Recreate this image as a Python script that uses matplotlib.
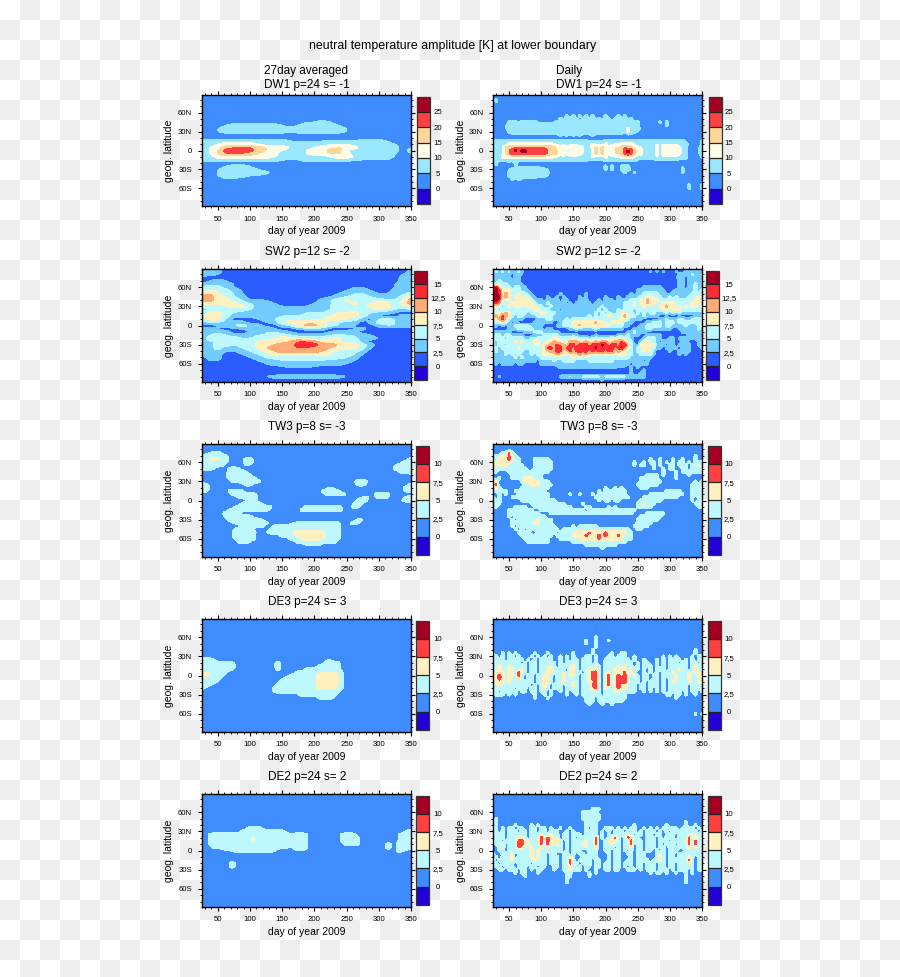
import numpy as np
import matplotlib
matplotlib.use("Agg")
import matplotlib.pyplot as plt
from matplotlib.colors import ListedColormap, BoundaryNorm
from matplotlib.ticker import FixedLocator, FixedFormatter

plt.rcParams['font.family'] = ['Liberation Sans', 'DejaVu Sans']

# Each field: (latitude, amplitude read along that latitude, one base-36 digit per column,
# columns evenly spaced from day 25 to day 350). One digit = half a colour band.
DW1_AVG = [
 (45,"111111111111122321111111111"),
 (40,"111233333321233332111111111"),
 (35,"112333333333333333211111111"),
 (30,"112333333332333333211111111"),
 (15,"333333333332222222223332111"),
 (10,"334555543333233344433333211"),
 (5,"345788876554334556653333312"),
 (0,"346999976543345577433443313"),
 (-5,"346888765533345566533333212"),
 (-10,"335555555433233345543333211"),
 (-15,"333333333322233333322222111"),
 (-25,"111233211111111111111111111"),
 (-30,"112333321111111111111111111"),
 (-35,"112333333111111111111111111"),
 (-40,"112333221111111111111111111"),
 (-45,"111221111111111111111111111"),
]
SW2_AVG = [
 (85,"333111111111111111111111113"),
 (80,"332111111111111111111111123"),
 (75,"111111111111111111111111133"),
 (70,"123211111111111111111111133"),
 (65,"233321111111111111111111233"),
 (60,"555321111111111111122111233"),
 (55,"566532111111111111233211333"),
 (50,"786542111111111112344322335"),
 (45,"997643111111111123455433357"),
 (40,"997754222111111345755554469"),
 (35,"777775433211112344575677579"),
 (30,"555677533322223345555777557"),
 (25,"344455433333333345555575434"),
 (20,"477543333333344456675433211"),
 (15,"587533333344455567775321133"),
 (10,"577411123455556677653145433"),
 (5,"344333112367777754331355433"),
 (0,"112345431134799754321134433"),
 (-5,"332122344211233311123111111"),
 (-10,"333311234432111123331111111"),
 (-15,"245433344554333344443211111"),
 (-20,"355554455677655567544321111"),
 (-25,"344555567778aa97765531111"),
 (-30,"235545577899bbb998775311111"),
 (-35,"235334568999aa9987775211111"),
 (-40,"334223457899999875553111111"),
 (-45,"333112345777777765542111111"),
 (-50,"133111234555555555431111111"),
 (-55,"122111123344444433321111111"),
 (-60,"111111112333333333211111111"),
 (-65,"111111111122222111111111111"),
 (-80,"111111112333333333211211111"),
]
TW3_AVG = [
 (75,"1122332111"),
 (70,"2333333321"),
 (65,"3335552331 1112332111 1111111111 1111111111 1111111111 1111111111 111123"),
 (60,"3333333321 1112332111 1111111111 1111111111 1111111111 1111111111 112333"),
 (55,"3333333211 1112221111 1111111111 1111111111 1111111111 1111111111 233333"),
 (50,"3333211123 3321111111 1111111111 1111111111 1111111111 1111111111 333333"),
 (45,"2111111123 3333211111 1111111111 1111111111 1111111111 1111111111 123333"),
 (40,"1111111133 3333331111 1111111111 1111111111 1111111111 1111111111 111112"),
 (35,"1111111123 3333333211"),
 (30,"1111111112 3333333331 1111111111 1111111111 1111111133 3311111111"),
 (25,"3321111111 1112332111 1111111111 1111111111 1111111123 3211111111 111123"),
 (20,"3331111111 1111111111 1111111111 1111111112 2211111111 1111111111 111333"),
 (15,"3321111123 3332111111 1111111111 1111111233 3332111111 1111111111 111233"),
 (10,"1111111112 3333333211 1111111111 1111111123 3333321111 1111333331"),
 (5,"1111111111 1233333311 1111111111 1111111111 1111111112 2321233321 111233"),
 (0,"2111111111 1111233211 1111111111 1111111111 1111111123 3311111111 112333"),
 (-5,"1111111111 1123333332 1111111111 1111111111 1111111233 2111111111"),
 (-10,"1111111111 2333333333 3321111111 1133333333 3333111332"),
 (-15,"1111111123 3333333333 3211111111 1333333333 3333211111"),
 (-20,"1111111333 3321111111"),
 (-25,"1111111233 3333332111"),
 (-30,"1111111123 3333333332 1111111111 1111111111 1111111123 2111111111"),
 (-35,"1111111112 2333333333 3211111122 3333333333 3332112332"),
 (-40,"1111111111 1123333333 1123333333 3333333333 3332112111"),
 (-45,"1111111111 2333332111 1233333333 3333333333 3332111111"),
 (-50,"1111111111 3333333211 2333333345 5555555553 3332111111"),
 (-55,"1111111111 3333333111 1111233334 5555555553 3332111111"),
 (-60,"1111111111 2333333211 1111111233 3455555443 3332111111"),
 (-65,"1111111111 1233321111 1111111112 3333333333 3321111111"),
 (-70,"1111111111 1111111111 1111111111 1122222211"),
]
DE3_AVG = [
 (25,"3333211111 1111111111 1111111111 1111111112 2111111111"),
 (20,"3333333333 2111111111 1112311111 1111111123 3332111111"),
 (15,"3333333333 3111111111 1113311111 1111112333 3332111111"),
 (10,"3333333333 2111111111 1112311111 1123333333 3332111111"),
 (5,"4443333321 1111111111 1112111112 3333333444 4443211111"),
 (0,"5553333211 1111111111 1111111233 3333335555 5553211111"),
 (-5,"3333332111 1111111111 1111123333 3333335555 5553211111"),
 (-10,"3333321111 1111111111 1111233333 3333335555 5553211111"),
 (-15,"3332111111 1111111111 1112333333 3333335555 5553211111"),
 (-20,"3211111111 1111111111 1123333333 3333335555 5533211111"),
 (-25,"1111111111 1111111111 1123333333 3333333333 3332111111"),
 (-30,"1111111111 1111111111 1111111111 2333333333 3321111111"),
 (-35,"1111111111 1111111111 1111111111 1111112333 3211111111"),
]
DE2_AVG = [
 (35,"1111111111 1111233332"),
 (30,"1111111111 1123333333 3333332111 1111111111 1111111111 1111111111 111233"),
 (25,"1123333333 3333333333 3333333323 3332111111 1112333321 1111111111 123333"),
 (20,"1123333333 3333335333 3333333333 3332111111 1112333332 1111111111 123333"),
 (15,"1123333333 3333335333 3333333333 3332111111 1112333332 1111111111 123333"),
 (10,"1123333333 3333333333 3333333333 3332111111 1111233332 1111111232 133333"),
 (5,"1112333333 3333333333 3333333223 3332111111 1111111111 1111111232 133333"),
 (0,"1111111222 3333333333 3332111112 2221111111 1111111111 1111111121 133221"),
 (-5,"1111111111 1111111111 1111111111 1111111111 1111111111 1111111111 121111"),
 (-20,"1111111113 3111111111"),
 (-25,"1111111113 3111111111"),
]
DW1_DAY = [
 (80,"1311111111"),
 (75,"1211111111"),
 (70,"1211111111"),
 (55,"1111111111 1111111111 1113131313 1311131113 1311111111"),
 (50,"1111111111 1111111111 1323333133 3323233133 3323111111"),
 (45,"1111133323 3333222222 3333333333 3333333333 3333331111 1131311111"),
 (40,"1111233333 3333333333 3333333333 3333333333 3333331111 1111311111"),
 (35,"1111233333 3333333333 3333333333 3333333333 3353332111"),
 (30,"1111133333 3333333333 3333333333 3333333333 3353321111"),
 (25,"1111112222 2222222222 2323232322 2322222222 2122111111"),
 (15,"3333333333 3333333333 3333333333 2222233333 3333333333 3333333333 211113"),
 (10,"3333355555 5555555554 4343444343 4534353444 5555433233 4444444433 321113"),
 (5,"3334777888 8888888777 5555555544 3575755566 7877554333 3535555553 311223"),
 (0,"3334689b9b b999999877 6555555543 3575755567 79b9755333 3535555553 311223"),
 (-5,"3334689999 a999999877 6555555543 3575755566 79a9755333 3535555553 311223"),
 (-10,"3335555555 5555555554 4343444333 3534353444 5565433233 3434444433 311113"),
 (-15,"3333333333 3333333333 3333333333 2222233333 3333322222 2222222222 211111"),
 (-20,"1311121311 1111111111 1111111111 1111111111 1111111111 1111111111"),
 (-25,"1211111222 2222211111 1111111111 1111131311 3331111111 1111111112"),
 (-30,"1111123333 3333333211 1111111111 1111131311 3332111111 1111111113"),
 (-35,"1111133333 3333333311 1111111111 1111111111 1311311111 1111111113"),
 (-40,"1111133333 3333333211"),
 (-45,"1111113232 2222111111"),
 (-55,"1111111111 1111111111 1111111111 1111111111 1111111111 1111111111 131113"),
 (-60,"1111111111 1111111111 1111111111 1111111111 1111111111 1111111111 131113"),
]
SW2_DAY = [
 (85,"3535353353 1111111111 1111111111 1111111111 1111111113 1313111311 333333"),
 (80,"3333331332 1111111111 1111111111 1111111111 1111111111 1111111133 335333"),
 (75,"3333331331 1111111111 1111111111 1111111111 1111111111 1111111233 133333"),
 (70,"3353333331 1111111111 1111111111 1111111111 1111111111 1111111133 133333"),
 (65,"3555533332 1111111111 1111111111 1111111111 1111111111 1111111133 133533"),
 (60,"9d75553553 3111111111 1111111111 1111111111 1111111333 3331111133 133533"),
 (55,"bdb7775553 3211111111 1111111111 1111111111 1111133333 3333112333 333535"),
 (50,"bdb7975575 5321111111 1311111113 1111111111 1113133555 5533223333 335555"),
 (45,"bdd7975775 7532111311 3131111313 1111131113 1133335577 5553353533 355575"),
 (40,"bdb5775577 7753331333 3133111333 1113133313 3335557597 7755555555 555777"),
 (35,"9b95557777 7775333533 3331313333 3133333333 3555757797 7557777555 557757"),
 (30,"7753575777 5777553353 3333333333 3333533333 3553735755 5577977575 757757"),
 (25,"5535355555 5557755533 3133333333 3335353335 3555355555 5557757775 555555"),
 (20,"7757975555 5355577555 3333333333 3353535335 5755353535 5333535353 333333"),
 (15,"797b975355 3333555553 3333333333 5353557755 7975533533 3311111111 111333"),
 (10,"779b753333 1111333553 3335355555 5555555555 7753333111 1133533355 335555"),
 (5,"5557531311 1113333331 1355577777 7797755777 7333111133 5553555355 555555"),
 (0,"3313133555 5533331111 3355577977 7777777555 5331113355 5553553333 533355"),
 (-5,"1111133355 5553331331 1111335333 3353333333 3111333355 3333331133 333353"),
 (-10,"3333331111 3335553333 3111111111 1111111111 1133533311 1111111113 333333"),
 (-15,"3553553333 1111335555 5333333111 1131111113 3353331133 3331111111 133333"),
 (-20,"5555355555 3355555557 7555575555 3555555757 7553111355 5331133133 333333"),
 (-25,"5355555757 5557755779 7757999779 7797997799 b755113575 5313333113 311133"),
 (-30,"5355355555 5557757799 b997bb9bbb 9bbbdb9bb9 bd75317777 7333133133 331133"),
 (-35,"3535555575 5553557bb9 bb9bb9bbbb bbdbbbbb9b d975355775 5331333313 331113"),
 (-40,"5533555555 3355557799 bb77b9bbbb 9b9bb9bb79 7755355757 3111131133 331111"),
 (-45,"3333535353 3353557777 9777777979 7777777777 7755335555 3111111131 311111"),
 (-50,"3333333535 3333355555 5555575755 5555555555 5553333333 1111111111 111111"),
 (-55,"3333333333 3333133335 3355553333 5555555533 3333333131 1111111111"),
 (-60,"1313333133 1111133333 3333333333 3333333333 3331333331 1111111111"),
 (-65,"1111111111 1111111111 2333333333 3333333332 2213131111"),
 (-70,"1111111111 1111111111 1111111111 1111111111 1113111311"),
 (-75,"1111111111 1111111111 1111111111 1111111111 1113113311"),
 (-80,"1131111111 1111111111 1333533355 5555355555 5533333311"),
 (-85,"1111111111 1111111111 1111111111 1111311111 1111111111"),
]
TW3_DAY = [
 (75,"1113373111"),
 (70,"3335373311 1111111111 1111111111 1111111111 1111111111 1111111111 111311"),
 (65,"3355575331 1113333311 1111111111 1111111111 1111111113 1131113113 111311"),
 (60,"5555553331 1113333331 1111111111 1111111111 1111311313 3131313133 131333"),
 (55,"5353533333 1113333331 1111111111 1111111111 1111313311 3131133133 313353"),
 (50,"5333333333 3113333331 1111111111 1111111111 1111111111 3113133113 313333"),
 (45,"3311133333 3333333311 1111111111 1111111111 1111111111 1113111313 333333"),
 (40,"1111113333 3333331111 1111111111 1111111111 1111111133 3313111311 131111"),
 (35,"3131113333 5553331111 1111111111 1111111111 1111113333 3311111311"),
 (30,"5511111113 5555533311 1111111111 1111111111 1111113333 3331111111 111313"),
 (25,"5711111111 3355533331 1111111111 1111111111 1111133333 3311111111 113333"),
 (20,"5531111113 3333333311 1111111111 1111131131 3111113331 1111111111 113333"),
 (15,"3333311333 3333333111 1111111111 1113133333 3311111111 1111333331 113333"),
 (10,"1131311133 3333333311 1111311311 1313333333 3311111113 3333333333 113333"),
 (5,"3131113333 3333333311 1111111111 1133333333 3331111333 3333333311 113133"),
 (0,"3331111113 3333333333 1111111111 1113133133 1111113333 3331111111 113133"),
 (-5,"3331111111 1133333333 3331111131 1111111111 1111133533 3111111111 111333"),
 (-10,"3311111333 3113333333 3333311113 3111113131 1111133333 1111111111 111133"),
 (-15,"1111133333 3331133333 3333333331 3333333333 3333311111 1111111111"),
 (-20,"1111133333 3333311133 3333333333 3333333333 3333111133 3333111111"),
 (-25,"1111131333 3333333111 1111111111 1111111111 1111113333 3331111111"),
 (-30,"1111113133 3333533331 1111111111 1111111111 1111133333 3311111111"),
 (-35,"1111113333 3335533331 1111111111 1111111111 1111133333 1111111111"),
 (-40,"1111113133 3333333333 1111131333 3331111111 1111333331 1111111111"),
 (-45,"1111111313 1333333333 3133333333 3333333333 3331133111"),
 (-50,"1111111133 3311333333 1333335555 7555575555 5533111111"),
 (-55,"1111111113 3333333331 3333355557 5557575557 5333111111"),
 (-60,"1111111111 3333333311 1333333555 5557555555 5333111111"),
 (-65,"1111111111 1333333311 1111133333 3333333333 3311111111"),
 (-70,"1111111111 1111111111 1111111113 3333333331 1111111111"),
 (-75,"1111111111 1111111111 1111111111 1111311111"),
]
DE3_DAY = [
 (60,"1111111111 1111111111 1111111111 1131111111"),
 (55,"1111111111 1111111111 1111111113 1131113111"),
 (50,"1111111111 1111111111 1111111113 1131111111"),
 (45,"1111111111 1111111111 1111111111 1131111111"),
 (40,"1111111111 1111111111 1111111111 1311111111 1111111111 1111111111 111311"),
 (35,"2113131311 1113111311 1111131111 1311111311 3311111111 1111111111 111311"),
 (30,"3313133131 1131313131 1313131113 3131113313 3311311111 1113131311 113133"),
 (25,"3333133333 1313133331 1313133133 3131133333 3331311311 1313133331 313133"),
 (20,"3333333331 3133133313 1313333133 3131133333 3333131331 1313133313 313313"),
 (15,"3353353333 3133133353 1333353133 3353133335 3533131333 1313133333 313533"),
 (10,"3353355335 3133133553 3331553133 5353133353 5535331313 1333133353 313533"),
 (5,"3555355375 3133133553 3351553313 5773135355 5735311313 1313335333 353553"),
 (0,"3575355373 1331335531 3353553133 5773157357 5753531331 3313333533 353153"),
 (-5,"3575353353 1331335531 3353313133 5773157357 7753331331 3313133533 353353"),
 (-10,"3555353333 3331335531 3353353133 5573157357 7753331313 3313135333 353353"),
 (-15,"3353333333 3313135313 3313353133 3773157357 5533313313 3313133333 313333"),
 (-20,"3333333133 3133135313 3313333133 3573153357 5533313313 1313133333 313333"),
 (-25,"3313333313 3133133131 1313133133 3333133353 3333311313 1313133331 313313"),
 (-30,"1333131311 1113113131 1113113133 3333133333 3311111111 1111331331 311311"),
 (-35,"1111111111 1113111311 1111111113 3313333333 3311111111 1111111311 111111"),
 (-40,"1111111111 1111111111 1111111113 3313333333 3111111111 1111111111"),
 (-45,"1111111111 1111111111 1111111111 3111311311 1111111111"),
 (-60,"1111111111 1111111111 1111111111 1111111111 1111111111 1111111111 111313"),
]
DE2_DAY = [
 (65,"1111111111 1111111111 1111111111 1333111111"),
 (60,"1111111111 1111111111 1111111133 3331111111"),
 (55,"1111111111 1111111111 1111111133 3333111111"),
 (50,"1311111111 1111111111 1111111133 3333111111"),
 (45,"1311111111 1111111111 1111111113 3331111111 1111111111 1111111111 311111"),
 (40,"1311111311 1131311111 1111111113 3331111111 1111311111 1111311111 311311"),
 (35,"1313133133 1133133131 1311311113 1331133313 1313311313 1313333313 333131"),
 (30,"1313133313 3133133133 3113131113 3331313133 3133313133 3131313333 313313"),
 (25,"1333133333 3133353353 3133133313 3331313133 3353133133 1331333133 353533"),
 (20,"1333133355 3133375753 5133131333 3371313573 1375331133 3131333133 373533"),
 (15,"1331333377 5533373755 5313133335 3371135353 1337333133 3133313333 373733"),
 (10,"1335133377 5533373735 5313133355 3371133533 1337133133 3131333133 373733"),
 (5,"1135133375 3353353533 3313133335 3351133313 1335133133 3133133333 353533"),
 (0,"1133133333 3353533333 3313133311 3331133133 1313133133 1313133311 333333"),
 (-5,"3113335133 3353533133 1133131331 3331113133 1133133311 1353133133 333331"),
 (-10,"3313335133 3353533133 3133531133 3331113133 1113133311 1353133133 353133"),
 (-15,"3133135333 3335333133 3133731333 3133113133 1133133331 3353133333 373133"),
 (-20,"3313333133 3313333133 3133733133 3133133133 1333133133 3133133133 353133"),
 (-25,"1331333133 3133133113 3133533313 3133133133 1313133133 3133133133 333133"),
 (-30,"1133133313 3131331113 1133533313 1131133133 1133313133 3133313133 313133"),
 (-35,"1111111313 3111311111 1113311111 3131111111 1111111113 1331311311 313111"),
 (-40,"1111111111 3111111111 1113311111 3111111111 1111111111 1111111111 311111"),
 (-45,"1111111111 1111111111 1113111111 1111111111 1111111111 1111111111 311111"),
 (-50,"1111111111 1111111111 1113111111 1111111111 1111111111 1111111111 311111"),
]

LEVELS_DW1 = [0, 5, 10, 15, 20, 25]
LEVELS_SW2 = [0, 2.5, 5, 7.5, 10, 12.5, 15]
LEVELS_WAVE = [0, 2.5, 5, 7.5, 10]
COLORS_DW1 = ['#2200d8', '#3f8cff', '#99e8ff', '#fffce8', '#ffd699', '#ff4040', '#a50021']
COLORS_SW2 = ['#2200d8', '#2a5cff', '#72ccff', '#bdf8ff', '#fff0c0', '#ffab75', '#ff2a33', '#a50021']
COLORS_WAVE = ['#2200d8', '#3f8cff', '#bdf8ff', '#fff0c0', '#ff4040', '#a50021']
DAY_TICKS = [50, 100, 150, 200, 250, 300, 350]
LAT_TICKS = [60, 30, 0, -30, -60]
LAT_LABELS = ['60N', '30N', '0', '30S', '60S']

W, H = 900, 977
fig = plt.figure(figsize=(W / 100, H / 100), dpi=100)
yy, xx = np.indices((H, W))
check = np.where(((xx // 20) + (yy // 20)) % 2 == 0, 1.0, 0.933)
fig.figimage(check, cmap='gray', vmin=0, vmax=1, zorder=-5)


def box(x0, y0, x1, y1):
    return [x0 / W, 1 - y1 / H, (x1 - x0) / W, (y1 - y0) / H]


def smooth(a, width, axis):
    """Box-filter a field along one axis, as a contouring package's smoothing does."""
    if width < 2:
        return a
    pad = width // 2
    pads = [(pad, pad) if i == axis else (0, 0) for i in range(2)]
    b = np.pad(a, pads, mode='edge')
    k = np.ones(width) / width
    return np.apply_along_axis(lambda v: np.convolve(v, k, mode='valid'), axis, b)


def field(rows, step, kx, ky):
    lat = np.arange(90, -91, -5)
    lookup = {la: "".join(s.split()) for la, s in rows}
    n = 27 if max(len(s) for s in lookup.values()) <= 27 else 66
    z = np.ones((lat.size, n))
    for i, la in enumerate(lat):
        for j, c in enumerate(lookup.get(int(la), "")[:n]):
            z[i, j] = int(c, 36)
    x = np.linspace(25, 350, n)
    xf = np.arange(25.0, 350.5, 1.0)
    latf = np.arange(90.0, -90.5, -1.0)
    zx = np.array([np.interp(xf, x, r) for r in z])
    zf = np.array([np.interp(-latf, -lat, c) for c in zx.T]).T
    zf = smooth(smooth(smooth(zf, kx, 1), ky, 0), ky, 0)
    return xf, latf, zf * step / 2


def fmt(v):
    return (f"{v:g}").replace('.', ',')


def panel(x0, x1, y0, y1, cx, rows, levels, colors, title, title_gap, kx):
    ax = fig.add_axes(box(x0, y0, x1, y1))
    step = levels[1] - levels[0]
    x, lat, z = field(rows, step, kx, 3)
    cmap = ListedColormap(colors[1:-1])
    cmap.set_under(colors[0])
    cmap.set_over(colors[-1])
    norm = BoundaryNorm(levels, cmap.N)
    cf = ax.contourf(x, lat, z, levels=levels, cmap=cmap, norm=norm, extend='both')
    ax.set_xlim(25, 350)
    ax.set_ylim(-88, 88)
    ax.xaxis.set_major_locator(FixedLocator(DAY_TICKS))
    ax.xaxis.set_minor_locator(FixedLocator(np.arange(30, 350, 10)))
    ax.yaxis.set_major_locator(FixedLocator(LAT_TICKS))
    ax.yaxis.set_major_formatter(FixedFormatter(LAT_LABELS))
    ax.yaxis.set_minor_locator(FixedLocator(np.arange(-80, 81, 10)))
    ax.tick_params(which='major', direction='out', length=3, width=0.8, labelsize=5.6,
                   top=True, right=True, pad=4)
    ax.tick_params(which='minor', direction='out', length=1.6, width=0.6,
                   top=True, right=True)
    for s in ax.spines.values():
        s.set_linewidth(1.0)
    fig.text((x0 + x1) / 2 / W, 1 - (y1 + 25) / H, 'day of year 2009',
             ha='center', va='center', fontsize=7.5)
    fig.text((x0 - 32.5) / W, 1 - (y0 + y1) / 2 / H, 'geog. latitude', rotation=90,
             ha='center', va='center', fontsize=7.5)
    fig.text((x0 + x1) / 2 / W + 0.001, 1 - (y0 - title_gap) / H, title, ha='center',
             va='baseline', multialignment='left', fontsize=8.5)
    cax = fig.add_axes(box(cx, y0 + 1.5, cx + 13, y1 - 2))
    cb = fig.colorbar(cf, cax=cax, orientation='vertical', spacing='uniform',
                      extendrect=True, extendfrac=1 / (len(levels) - 1), drawedges=True)
    cb.set_ticks(levels, labels=[fmt(v) for v in levels])
    cb.ax.minorticks_off()
    cb.ax.tick_params(length=0, labelsize=5.6, pad=(x1 + 27 - cx - 13) * 0.72)
    for t in cb.ax.get_yticklabels():
        t.set_ha('center')
    cb.outline.set_linewidth(0.9)
    cb.outline.set_edgecolor('#333333')
    cb.dividers.set_linewidth(0.9)
    cb.dividers.set_color('#222222')


L, R = (201.7, 411), (493, 702)
ROW1, ROW2, ROW3, ROW4, ROW5 = (95, 206), (269.3, 381.7), (444.3, 556.7), (619.3, 731.7), (794.3, 906.7)
fig.text(452.5 / W, 1 - 46 / H, 'neutral temperature amplitude [K] at lower boundary',
         ha='center', va='center', fontsize=8.95)
panel(*L, *ROW1, 417, DW1_AVG, LEVELS_DW1, COLORS_DW1, '27day averaged\nDW1 p=24 s= -1', 7.3, 11)
panel(*R, *ROW1, 709, DW1_DAY, LEVELS_DW1, COLORS_DW1, 'Daily\nDW1 p=24 s= -1', 7.3, 3)
panel(*L, *ROW2, 414, SW2_AVG, LEVELS_SW2, COLORS_SW2, 'SW2 p=12 s= -2', 14, 11)
panel(*R, *ROW2, 706, SW2_DAY, LEVELS_SW2, COLORS_SW2, 'SW2 p=12 s= -2', 14, 3)
panel(*L, *ROW3, 416, TW3_AVG, LEVELS_WAVE, COLORS_WAVE, 'TW3 p=8 s= -3', 14, 7)
panel(*R, *ROW3, 708, TW3_DAY, LEVELS_WAVE, COLORS_WAVE, 'TW3 p=8 s= -3', 14, 3)
panel(*L, *ROW4, 416, DE3_AVG, LEVELS_WAVE, COLORS_WAVE, 'DE3 p=24 s= 3', 14, 7)
panel(*R, *ROW4, 708, DE3_DAY, LEVELS_WAVE, COLORS_WAVE, 'DE3 p=24 s= 3', 14, 3)
panel(*L, *ROW5, 416, DE2_AVG, LEVELS_WAVE, COLORS_WAVE, 'DE2 p=24 s= 2', 14, 7)
panel(*R, *ROW5, 708, DE2_DAY, LEVELS_WAVE, COLORS_WAVE, 'DE2 p=24 s= 2', 14, 3)
fig.savefig('out.png', dpi=100)
